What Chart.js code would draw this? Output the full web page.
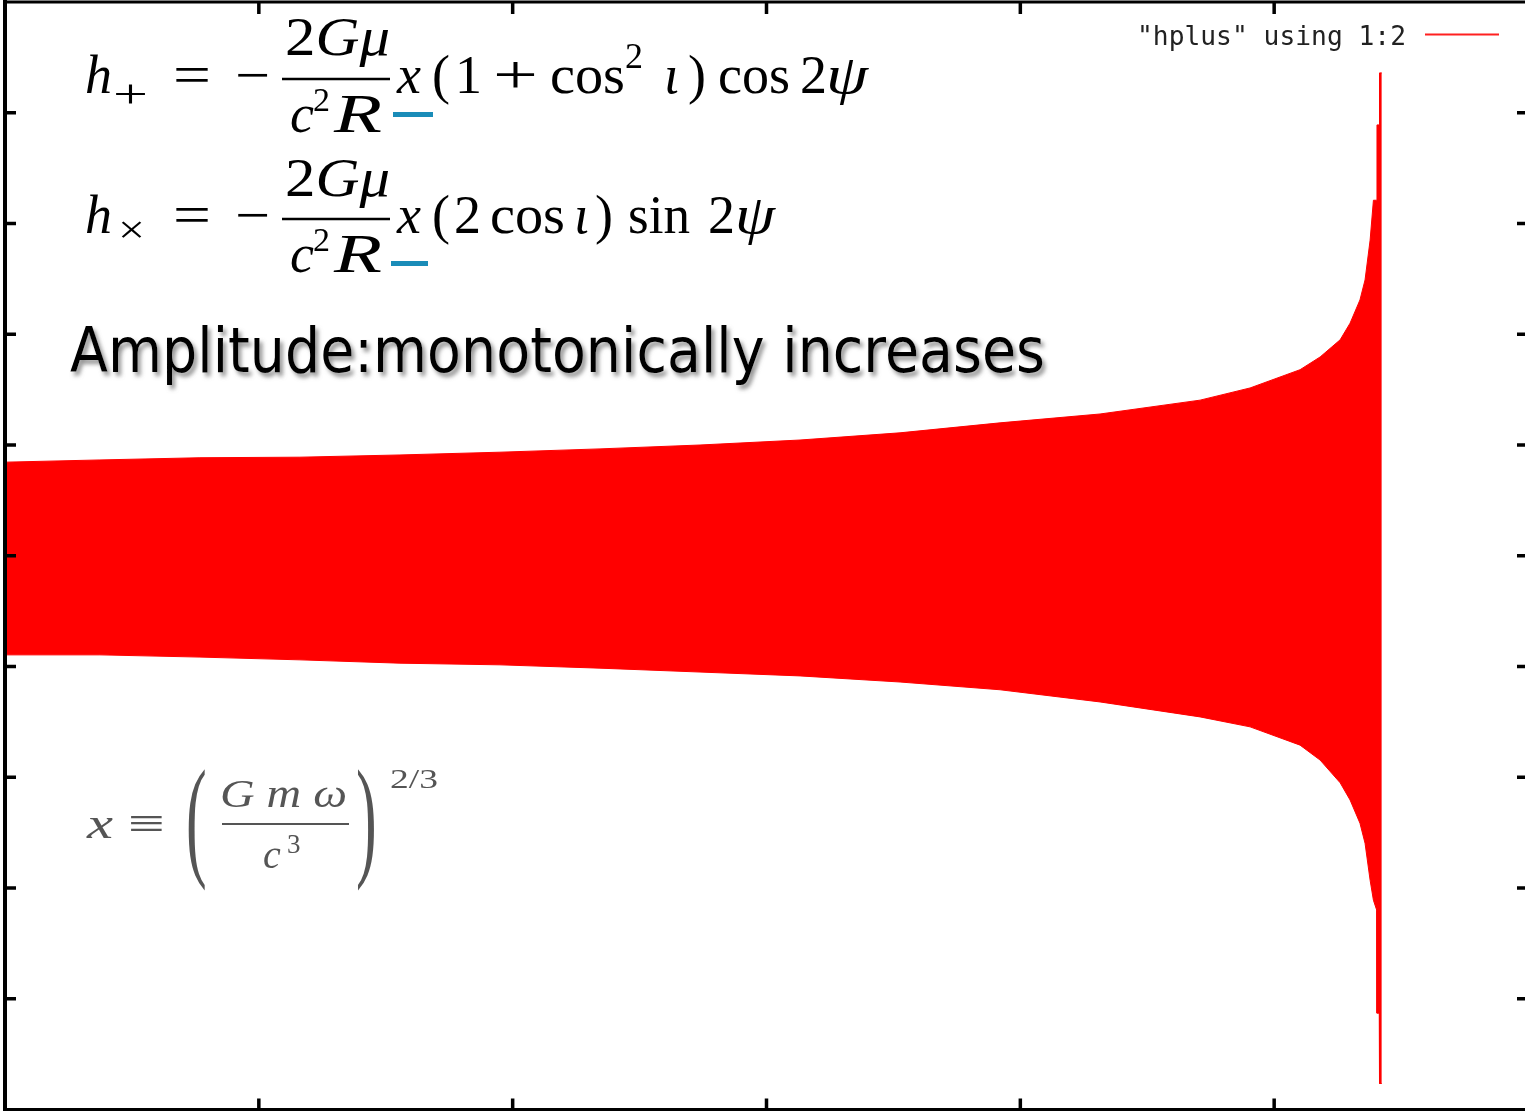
<!DOCTYPE html>
<html>
<head>
<meta charset="utf-8">
<script src="https://cdn.jsdelivr.net/npm/chart.js"></script>
<style>
html, body { margin: 0; padding: 0; background: #fff; overflow: hidden; }
#wrap { position: relative; width: 1525px; height: 1111px; overflow: hidden; }
#wrap canvas { position: absolute; left: 0; top: 0; }
#wrap svg { position: absolute; left: 0; top: 0; pointer-events: none; }
.m { font-family: "Liberation Serif", "DejaVu Serif", serif; font-size: 54px; fill: #000; }
.i { font-style: italic; }
</style>
</head>
<body>
<div id="wrap">
<canvas id="c" width="1532" height="1111"></canvas>
<svg width="1525" height="1111" xmlns="http://www.w3.org/2000/svg">
  <defs>
    <filter id="sh" x="-5%" y="-30%" width="110%" height="160%">
      <feDropShadow dx="3" dy="4" stdDeviation="2" flood-color="#777" flood-opacity="0.8"/>
    </filter>
    <filter id="soft"><feGaussianBlur stdDeviation="0.7"/></filter>
  </defs>

  <!-- h+ -->
  <g class="m">
    <text x="85" y="93" class="i">h</text>
    <text x="113" y="107" font-size="40" textLength="35" lengthAdjust="spacingAndGlyphs">+</text>
    <text x="173" y="93" textLength="38" lengthAdjust="spacingAndGlyphs">=</text>
    <text x="235" y="93" textLength="35" lengthAdjust="spacingAndGlyphs">−</text>
    <line x1="282" y1="79" x2="390" y2="79" stroke="#000" stroke-width="2.5"/>
    <text x="285" y="55" textLength="105" lengthAdjust="spacingAndGlyphs">2<tspan class="i">Gμ</tspan></text>
    <text x="290" y="132" class="i">c</text>
    <text x="313" y="111" font-size="34">2</text>
    <text x="334" y="132" class="i" textLength="48" lengthAdjust="spacingAndGlyphs">R</text>
    <rect x="393" y="112" width="40" height="5" fill="#1a8cb8"/>
    <text x="397" y="93" class="i">x</text>
    <text x="432" y="93">(</text>
    <text x="455" y="93">1</text>
    <text x="493" y="93" textLength="45" lengthAdjust="spacingAndGlyphs">+</text>
    <text x="550" y="93" textLength="75" lengthAdjust="spacingAndGlyphs">cos</text>
    <text x="625" y="68" font-size="36">2</text>
    <text x="664" y="93" class="i">ι</text>
    <text x="688" y="93">)</text>
    <text x="718" y="93" textLength="72" lengthAdjust="spacingAndGlyphs">cos</text>
    <text x="800" y="93">2</text>
    <text x="826" y="93" class="i" textLength="42" lengthAdjust="spacingAndGlyphs">ψ</text>
  </g>

  <!-- hx -->
  <g class="m">
    <text x="85" y="233" class="i">h</text>
    <text x="118" y="243" font-size="40" textLength="27" lengthAdjust="spacingAndGlyphs">×</text>
    <text x="173" y="233" textLength="38" lengthAdjust="spacingAndGlyphs">=</text>
    <text x="235" y="233" textLength="35" lengthAdjust="spacingAndGlyphs">−</text>
    <line x1="282" y1="219" x2="390" y2="219" stroke="#000" stroke-width="2.5"/>
    <text x="285" y="196" textLength="105" lengthAdjust="spacingAndGlyphs">2<tspan class="i">Gμ</tspan></text>
    <text x="290" y="272" class="i">c</text>
    <text x="313" y="251" font-size="34">2</text>
    <text x="334" y="272" class="i" textLength="48" lengthAdjust="spacingAndGlyphs">R</text>
    <rect x="391" y="261" width="37" height="5" fill="#1a8cb8"/>
    <text x="397" y="233" class="i">x</text>
    <text x="432" y="233">(</text>
    <text x="454" y="233">2</text>
    <text x="490" y="233" textLength="75" lengthAdjust="spacingAndGlyphs">cos</text>
    <text x="574" y="233" class="i">ι</text>
    <text x="595" y="233">)</text>
    <text x="628" y="233" textLength="62" lengthAdjust="spacingAndGlyphs">sin</text>
    <text x="708" y="233">2</text>
    <text x="735" y="233" class="i" textLength="40" lengthAdjust="spacingAndGlyphs">ψ</text>
  </g>

  <!-- caption -->
  <text x="70" y="372" font-family="DejaVu Sans" font-size="62" textLength="975" lengthAdjust="spacingAndGlyphs" filter="url(#sh)">Amplitude:monotonically increases</text>

  <!-- x definition -->
  <g class="m" style="fill:#555" filter="url(#soft)">
    <text x="87" y="838" class="i" font-size="44" textLength="26" lengthAdjust="spacingAndGlyphs">x</text>
    <text x="128" y="838" font-size="44" textLength="37" lengthAdjust="spacingAndGlyphs">≡</text>
    <text transform="translate(186,862) scale(1,2.15)" font-size="62">(</text>
    <text x="220" y="807" class="i" font-size="40" textLength="127" lengthAdjust="spacingAndGlyphs">G m ω</text>
    <line x1="222" y1="824" x2="349" y2="824" stroke="#555" stroke-width="2"/>
    <text x="263" y="868" class="i" font-size="40">c</text>
    <text x="287" y="853" font-size="27">3</text>
    <text transform="translate(356,862) scale(1,2.15)" font-size="62">)</text>
    <text x="390" y="788" font-size="28" textLength="48" lengthAdjust="spacingAndGlyphs">2/3</text>
  </g>

  <!-- key -->
  <text x="1137" y="45" font-family="DejaVu Sans Mono" font-size="26" fill="#222" textLength="269" lengthAdjust="spacingAndGlyphs">"hplus" using 1:2</text>
  <line x1="1425" y1="34.5" x2="1499" y2="34.5" stroke="#ff2020" stroke-width="2"/>
</svg>
</div>
<script>
// time axis (arbitrary units) and the upper / lower envelope of the h+ waveform
const timeValues = [0, 0.374, 0.768, 1.162, 1.556, 1.950, 2.344, 2.738, 3.132, 3.526,
  3.920, 4.314, 4.708, 4.905, 5.102, 5.181, 5.260, 5.299, 5.338, 5.358,
  5.378, 5.391, 5.404, 5.405, 5.414, 5.415, 5.424];
const upperEnvelope = [0.169, 0.173, 0.177, 0.178, 0.182, 0.187, 0.193, 0.200, 0.209, 0.222,
  0.240, 0.256, 0.281, 0.303, 0.336, 0.359, 0.390, 0.420, 0.462, 0.498,
  0.570, 0.642, 0.642, 0.778, 0.778, 0.872, 0.872];
const lowerEnvelope = [-0.179, -0.179, -0.183, -0.188, -0.194, -0.197, -0.203, -0.210, -0.217, -0.228,
  -0.242, -0.264, -0.291, -0.309, -0.342, -0.369, -0.410, -0.441, -0.483, -0.519,
  -0.586, -0.622, -0.640, -0.826, -0.826, -0.953, -0.953];
const xTicks = [0, 1, 2, 3, 4, 5, 6];
const yTicks = [-0.8, -0.6, -0.4, -0.2, 0, 0.2, 0.4, 0.6, 0.8];

const toPoints = ys => timeValues.map((t, i) => ({ x: t, y: ys[i] }));

// gnuplot style border with inward ticks
const framePlugin = {
  id: 'frame',
  afterDatasetsDraw(chart) {
    const { ctx, chartArea: a, scales: { x, y } } = chart;
    ctx.save();
    ctx.strokeStyle = '#000';
    ctx.lineWidth = 3;
    ctx.beginPath();
    ctx.moveTo(a.left, a.top); ctx.lineTo(a.right, a.top);
    ctx.lineTo(a.right, a.bottom); ctx.lineTo(a.left, a.bottom);
    ctx.stroke();
    ctx.lineWidth = 4;
    ctx.beginPath();
    ctx.moveTo(a.left, a.top - 2); ctx.lineTo(a.left, a.bottom + 2);
    ctx.stroke();

    ctx.lineWidth = 3.5;
    ctx.beginPath();
    xTicks.forEach(v => {
      const px = x.getPixelForValue(v);
      ctx.moveTo(px, a.top); ctx.lineTo(px, a.top + 12);
      ctx.moveTo(px, a.bottom); ctx.lineTo(px, a.bottom - 11);
    });
    yTicks.forEach(v => {
      const py = y.getPixelForValue(v);
      ctx.moveTo(a.left, py); ctx.lineTo(a.left + 11, py);
      ctx.moveTo(a.right, py); ctx.lineTo(a.right - 11, py);
    });
    ctx.stroke();
    ctx.restore();
  }
};

new Chart(document.getElementById('c').getContext('2d'), {
  type: 'line',
  data: {
    datasets: [
      {
        label: 'hplus',
        data: toPoints(upperEnvelope),
        borderColor: '#ff0000',
        backgroundColor: '#ff0000',
        borderWidth: 1,
        pointRadius: 0,
        tension: 0,
        fill: '+1'
      },
      {
        label: 'hplus (lower)',
        data: toPoints(lowerEnvelope),
        borderColor: '#ff0000',
        borderWidth: 1,
        pointRadius: 0,
        tension: 0,
        fill: false
      }
    ]
  },
  options: {
    responsive: false,
    animation: false,
    devicePixelRatio: 1,
    layout: { padding: { left: 5, right: 4, top: 2, bottom: 1.5 } },
    scales: {
      x: { type: 'linear', min: 0, max: 6, display: false },
      y: { min: -1, max: 1, display: false }
    },
    plugins: {
      legend: { display: false },
      tooltip: { enabled: false }
    }
  },
  plugins: [framePlugin]
});
</script>
</body>
</html>
